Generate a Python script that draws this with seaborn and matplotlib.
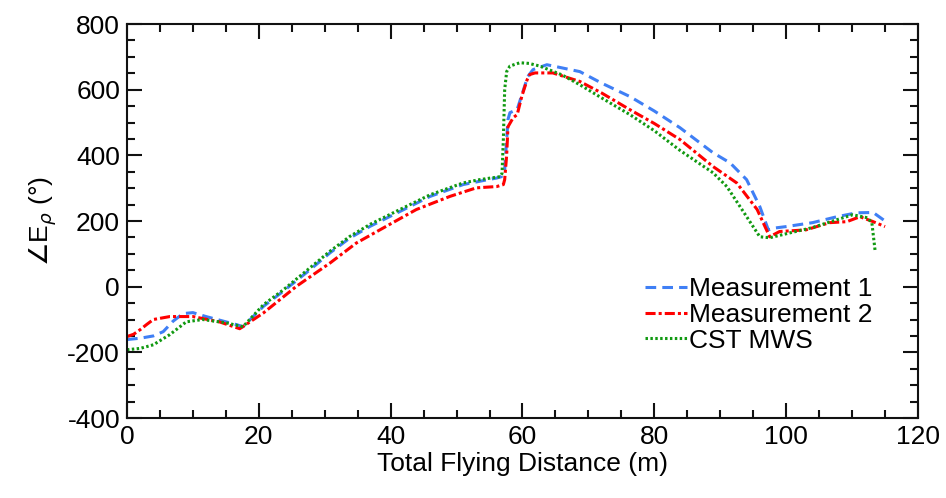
import pandas as pd
import matplotlib.pyplot as plt
import seaborn as sns

# Measurement 1 (blue dashed)
m1_x = [0, 2, 4, 5.5, 7, 8.5, 10, 12, 15, 16.7, 17.6, 20.7, 23.7, 27.8, 30.8, 33.8, 36.9,
        40.9, 46, 51, 54, 56.1, 56.8, 57.3, 57.8, 58.1, 59.2, 60, 60.8, 61.6, 63.7, 68.7,
        72, 76.3, 80, 83.9, 88.9, 91.5, 94, 96, 97.3, 98, 100, 104, 107.7, 110.7, 113.2, 115]
m1_y = [-161, -157, -150, -137, -105, -82, -79, -91, -107, -116, -122, -60, -14, 52, 103, 148, 184,
        224, 275, 311, 323, 331, 335, 356, 509, 530, 540, 590, 640, 661, 676, 655,
        620, 579, 535, 484, 408, 377, 326, 244, 173, 178, 183, 195, 213, 225, 226, 200]

# Measurement 2 (red dash-dot)
m2_x = [0, 1, 2, 3, 4, 6.5, 10, 14, 17.1, 20.7, 25.7, 30.8, 34.8, 38.9, 43.9, 49, 53, 56.1,
        57.1, 57.3, 57.6, 57.8, 58.6, 59.2, 59.9, 60.7, 61.1, 61.9, 64.6, 68.7, 72, 76.3, 80,
        83.9, 88.9, 92.5, 95.6, 97.5, 99, 103, 106.6, 109.2, 111.2, 113.2, 115]
m2_y = [-152, -145, -131, -115, -100, -91, -91, -107, -128, -80, 1, 72, 133, 179, 235, 275, 301, 305,
        311, 326, 400, 487, 515, 524, 580, 630, 646, 651, 651, 625, 590, 539, 497,
        448, 366, 316, 235, 152, 168, 173, 195, 198, 213, 198, 183]

# CST MWS (green dotted)
cst_x = [0, 2, 4, 6.5, 9, 11.5, 15, 17.6, 20.7, 23.7, 27.8, 30.8, 33.8, 36.9, 40.9, 46, 51, 53.5,
         56.6, 56.9, 57.1, 57.3, 57.6, 58.1, 59.6, 61, 62.6, 66, 68.7, 72, 76.3, 80, 83.9, 88.9,
         91, 93, 96, 97.5, 100.6, 104, 107.7, 110.1, 112.3, 113, 113.5]
cst_y = [-192, -188, -177, -146, -107, -100, -110, -122, -55, -10, 58, 108, 153, 190, 230, 280, 316, 326,
         335, 345, 450, 600, 655, 672, 682, 680, 672, 645, 615, 575, 524, 475, 415, 347,
         305, 244, 152, 149, 164, 180, 204, 219, 210, 195, 108]

series = [
    ('Measurement 1', m1_x, m1_y, '#3f7ff5', (0, (3.5, 2.0))),
    ('Measurement 2', m2_x, m2_y, '#ff0000', (0, (3.3, 1.0, 1.0, 1.0))),
    ('CST MWS', cst_x, cst_y, '#119911', (0, (0.8, 0.8))),
]

sns.set_style('ticks')
plt.rcParams['font.family'] = ['Liberation Sans', 'DejaVu Sans']
plt.rcParams['mathtext.fontset'] = 'dejavusans'
plt.rcParams['axes.unicode_minus'] = False
plt.rcParams['text.color'] = 'black'
plt.rcParams['axes.labelcolor'] = 'black'
plt.rcParams['xtick.color'] = 'black'
plt.rcParams['ytick.color'] = 'black'

fig = plt.figure(figsize=(9.46, 4.98), dpi=100)
ax = fig.add_axes([0.1342, 0.1606, 0.8362, 0.7912])

for name, xs, ys, color, ls in series:
    df = pd.DataFrame({'x': xs, 'y': ys})
    sns.lineplot(data=df, x='x', y='y', ax=ax, color=color, linestyle=ls,
                 linewidth=2.2, label=name, sort=False, estimator=None)

ax.set_xlim(0, 120)
ax.set_ylim(-400, 800)
ax.set_xticks(range(0, 121, 20))
ax.set_yticks(range(-400, 801, 200))
ax.set_xticks(range(0, 121, 5), minor=True)
ax.set_yticks(range(-400, 801, 50), minor=True)
ax.tick_params(which='both', direction='in', top=True, right=True, width=1.5,
               labelsize=19, color='#111111')
ax.tick_params(which='major', length=11, pad=5)
ax.tick_params(which='minor', length=5.5)
for s in ax.spines.values():
    s.set_linewidth(1.5)
    s.set_color('#111111')

ax.set_xlabel('Total Flying Distance (m)', fontsize=19, labelpad=2)
ax.set_ylabel(r'$\angle$E$_\rho$ (°)', fontsize=19, labelpad=6)

ax.legend(loc='upper left', bbox_to_anchor=(0.655, 0.357), frameon=False, fontsize=19,
          handlelength=1.6, handletextpad=0.05, labelspacing=0.06, borderpad=0,
          borderaxespad=0)

fig.savefig('out.png', dpi=100)
plt.close()
